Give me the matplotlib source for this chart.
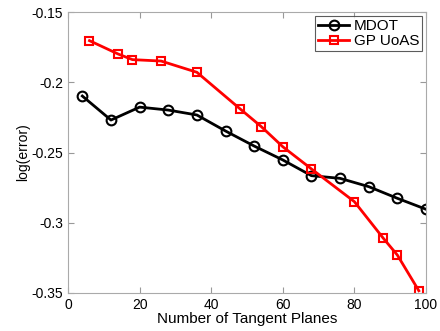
import matplotlib
matplotlib.use("Agg")
import matplotlib.pyplot as plt

plt.rcParams["font.family"] = ["Liberation Sans", "DejaVu Sans"]

# data
mdot_x = [4, 12, 20, 28, 36, 44, 52, 60, 68, 76, 84, 92, 100]
mdot_y = [-0.2098, -0.2269, -0.2177, -0.2198, -0.2233, -0.2347, -0.2454,
          -0.2553, -0.2665, -0.2684, -0.2743, -0.2826, -0.2904]

gp_x = [6, 14, 18, 26, 36, 48, 54, 60, 68, 80, 88, 92, 98]
gp_y = [-0.1704, -0.1799, -0.1839, -0.1849, -0.1929, -0.2188, -0.2316,
        -0.2459, -0.2617, -0.2850, -0.3108, -0.3230, -0.3484]

x_ticks = [0, 20, 40, 60, 80, 100]
y_ticks = [-0.35, -0.3, -0.25, -0.2, -0.15]
y_labels = ["-0.35", "-0.3", "-0.25", "-0.2", "-0.15"]

fig = plt.figure(figsize=(4.4, 3.31), dpi=100)
ax = fig.add_axes([68 / 440, 38 / 331, 358 / 440, 281 / 331])

ax.plot(mdot_x, mdot_y, color="black", lw=2, marker="o", ms=7,
        mfc="none", mew=1.5, label="MDOT")
ax.plot(gp_x, gp_y, color="red", lw=2, marker="s", ms=6,
        mfc="none", mew=1.5, label="GP UoAS")

ax.set_xlim(0, 100)
ax.set_ylim(-0.35, -0.15)
ax.set_xticks(x_ticks)
ax.set_yticks(y_ticks)
ax.set_yticklabels(y_labels)
ax.tick_params(direction="in", top=True, right=True, labelsize=10,
               color="#999999", length=4)
for s in ax.spines.values():
    s.set_color("#aaaaaa")

ax.set_xlabel("Number of Tangent Planes", fontsize=11, labelpad=0)
ax.set_ylabel("log(error)", fontsize=10, labelpad=1)

leg = ax.legend(loc="upper right", fontsize=11, fancybox=False,
                borderaxespad=0.25, handlelength=2.0, borderpad=0.2,
                labelspacing=0.1, handletextpad=0.3)
leg.get_frame().set_edgecolor("#333333")
leg.get_frame().set_linewidth(0.8)

fig.savefig("out.png", dpi=100)
